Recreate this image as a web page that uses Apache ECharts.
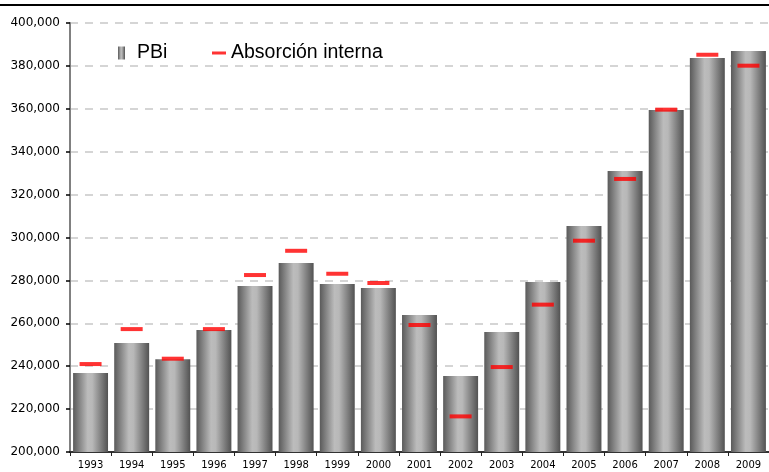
<!DOCTYPE html>
<html><head><meta charset="utf-8">
<script src="https://cdn.jsdelivr.net/npm/echarts@6/dist/echarts.min.js"></script>
<style>html,body{margin:0;padding:0;background:#fff}#c{width:769px;height:472px}</style>
</head><body><div id="c"></div>
<script>
const years = ['1993','1994','1995','1996','1997','1998','1999','2000','2001','2002','2003','2004','2005','2006','2007','2008','2009'];
const pbi = [236800,250800,243200,256900,277400,288100,278300,276500,263900,235400,255900,279200,305400,331000,359400,383700,386900];
const absorcion = [241000,257300,243500,257300,282500,293800,283100,278800,259200,216600,239600,268700,298500,327300,359600,385200,380100];
const yMin = 200000, yMax = 400000, yStep = 20000;

const chart = echarts.init(document.getElementById('c'), null, {renderer:'canvas'});
const barGrad = new echarts.graphic.LinearGradient(0,0,1,0,[
  {offset:0,color:'#5a5a5a'},{offset:0.42,color:'#bcbcbc'},{offset:0.55,color:'#b8b8b8'},{offset:1,color:'#525252'}
]);
chart.setOption({
  animation:false,
  graphic:[{type:'line',shape:{x1:0,y1:5,x2:769,y2:5},style:{stroke:'#000',lineWidth:2}}],
  legend:[
    {data:['PBi'],left:118,top:43,padding:0,itemWidth:7,itemHeight:13,icon:'rect',
     textStyle:{fontFamily:'Liberation Sans',fontSize:19.5,color:'#000',padding:[0,0,0,7]}},
    {data:['Absorción interna'],left:212,top:43,padding:0,itemWidth:14,itemHeight:3,icon:'rect',
     textStyle:{fontFamily:'Liberation Sans',fontSize:19.5,color:'#000'}}
  ],
  grid:{left:70,top:23,right:-4,bottom:20,containLabel:false},
  xAxis:{type:'category',data:years,
    axisLine:{lineStyle:{color:'#333',width:2}},
    axisTick:{show:true,length:4,lineStyle:{color:'#222'}},
    axisLabel:{fontFamily:'DejaVu Sans',fontSize:10,color:'#000',margin:8}},
  yAxis:{type:'value',min:yMin,max:yMax,interval:yStep,
    axisLine:{show:true,lineStyle:{color:'#808080',width:2}},
    axisTick:{show:true,length:4,lineStyle:{color:'#000',width:1.5}},
    axisLabel:{fontFamily:'DejaVu Sans',fontSize:12,color:'#000',margin:10,
      formatter:v=>v.toLocaleString('en-US')},
    splitLine:{lineStyle:{color:'#c8c8c8',type:[8,7],width:1.5}}},
  series:[
    {name:'PBi',type:'bar',data:pbi,barCategoryGap:'15%',itemStyle:{color:barGrad},z:3},
    {name:'Absorción interna',type:'scatter',data:absorcion,symbol:'rect',symbolSize:[22,4],
     itemStyle:{color:'#ff0000'},z:5}
  ]
});
</script></body></html>
